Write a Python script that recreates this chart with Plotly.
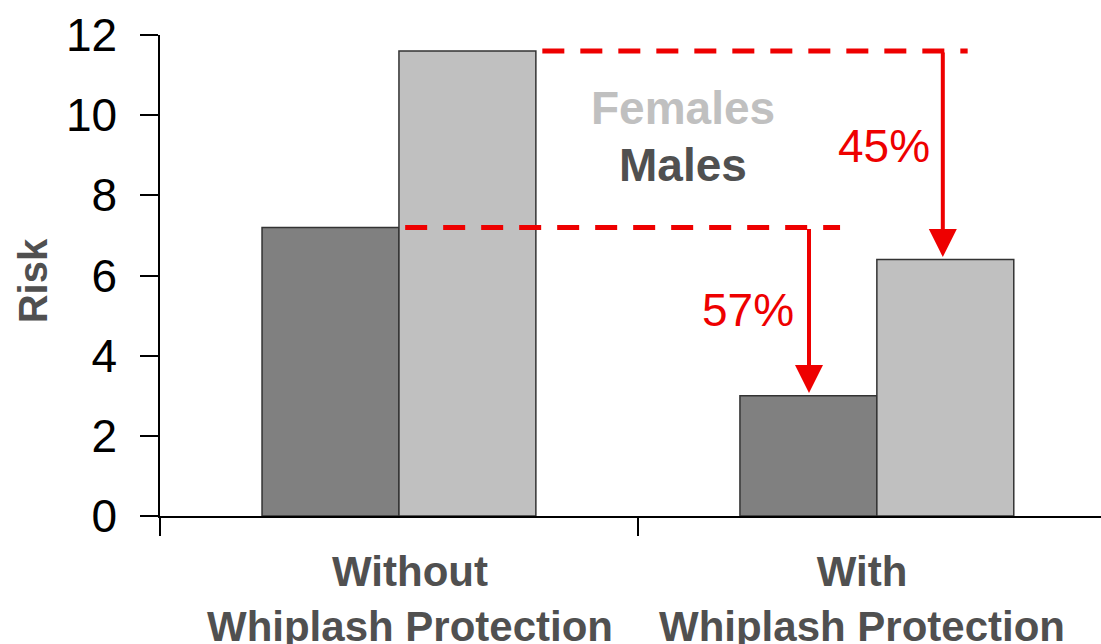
import plotly.graph_objects as go

categories = ["Without Whiplash Protection", "With Whiplash Protection"]
category_labels = ["<b>Without<br>Whiplash Protection</b>", "<b>With<br>Whiplash Protection</b>"]
males = [7.2, 3.0]
females = [11.6, 6.4]
reductions = ["57%", "45%"]
y_ticks = [0, 2, 4, 6, 8, 10, 12]

RED = "#EE0000"
FONT = "Liberation Sans, Arial, sans-serif"
LABEL_GREY = "#505050"

fig = go.Figure()
fig.add_trace(go.Bar(x=categories, y=males, name="Males",
                     marker=dict(color="#808080", line=dict(color="#333333", width=1.5))))
fig.add_trace(go.Bar(x=categories, y=females, name="Females",
                     marker=dict(color="#C0C0C0", line=dict(color="#333333", width=1.5))))

# dashed reference lines
fig.add_shape(type="line", xref="x", yref="y", x0=0.30, x1=1.19, y0=females[0], y1=females[0],
              line=dict(color=RED, width=5, dash="22px,16px"))
fig.add_shape(type="line", xref="x", yref="y", x0=0.013, x1=0.923, y0=males[0], y1=males[0],
              line=dict(color=RED, width=5, dash="22px,16px"))

# arrows
fig.add_annotation(x=1.138, y=females[1] + 0.06, ax=1.138, ay=females[0], xref="x", yref="y",
                   axref="x", ayref="y", text="", showarrow=True, arrowhead=2, arrowsize=1.4,
                   arrowwidth=4, arrowcolor=RED, standoff=0)
fig.add_annotation(x=0.858, y=males[1] + 0.07, ax=0.858, ay=males[0], xref="x", yref="y",
                   axref="x", ayref="y", text="", showarrow=True, arrowhead=2, arrowsize=1.4,
                   arrowwidth=4, arrowcolor=RED, standoff=0)

# percentage labels
fig.add_annotation(x=1.014, y=9.23, xref="x", yref="y", text=reductions[1], showarrow=False,
                   font=dict(family=FONT, size=46, color=RED))
fig.add_annotation(x=0.731, y=5.14, xref="x", yref="y", text=reductions[0], showarrow=False,
                   font=dict(family=FONT, size=46, color=RED))

# legend-like labels
fig.add_annotation(x=0.595, y=10.18, xref="x", yref="y", text="<b>Females</b>", showarrow=False,
                   font=dict(family=FONT, size=46, color="#C0C0C0"))
fig.add_annotation(x=0.594, y=8.76, xref="x", yref="y", text="<b>Males</b>", showarrow=False,
                   font=dict(family=FONT, size=46, color=LABEL_GREY))

# category labels (placed as in the reference, slightly off-centre)
for xc, lab in zip([0.023, 0.969], category_labels):
    fig.add_annotation(x=xc, y=-0.062, xref="x", yref="paper", text=lab, showarrow=False,
                       xanchor="center", yanchor="top",
                       font=dict(family=FONT, size=42, color=LABEL_GREY))

# y axis title
fig.add_annotation(x=-0.135, y=0.49, xref="paper", yref="paper", text="<b>Risk</b>",
                   xanchor="center", yanchor="middle",
                   showarrow=False, textangle=-90, font=dict(family=FONT, size=40, color=LABEL_GREY))

fig.update_layout(
    width=1101, height=644,
    margin=dict(l=160, r=0, t=35, b=128, autoexpand=False),
    barmode="group", bargap=0.427, bargroupgap=0,
    plot_bgcolor="white", paper_bgcolor="white",
    showlegend=False,
    font=dict(family=FONT),
)
fig.update_xaxes(type="category", range=[-0.5, 1.469], showline=True, linecolor="black",
                 linewidth=1.5, ticks="outside", tickson="boundaries", ticklen=18,
                 tickcolor="black", tickwidth=1.5, showgrid=False, zeroline=False,
                 showticklabels=False, automargin=False)
fig.update_yaxes(range=[0, 12], tickvals=y_ticks, showline=True, linecolor="black",
                 linewidth=1.5, ticks="outside", ticklen=18, tickcolor="black", tickwidth=1.5,
                 showgrid=False, zeroline=False,
                 tickfont=dict(family=FONT, size=46, color="black"),
                 ticklabelstandoff=14, automargin=False)
fig.update_traces(selector=dict(type="bar"), cliponaxis=False)

fig.write_html("out.html", config={"displayModeBar": False},
               post_script="document.body.style.margin='0';document.body.style.padding='0';")
